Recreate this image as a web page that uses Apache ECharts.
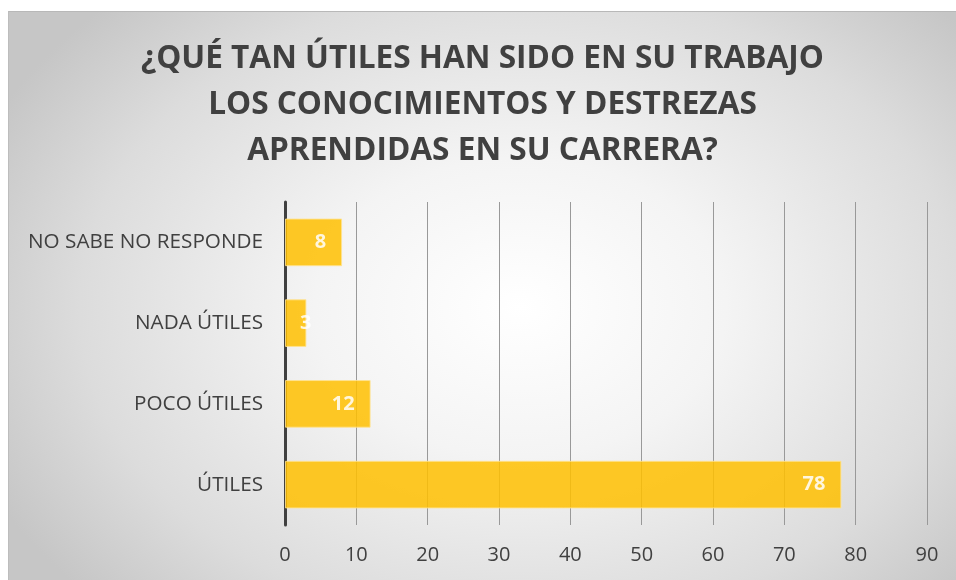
<!DOCTYPE html>
<html>
<head>
<meta charset="utf-8">
<script src="https://cdn.jsdelivr.net/npm/echarts@6/dist/echarts.min.js"></script>
<style>
  html, body { margin: 0; padding: 0; background: #ffffff; }
  #chart {
    position: absolute; left: 8px; top: 11px; width: 948px; height: 569px;
    border-top: 1px solid #b8b8b8; border-left: 1px solid #bdbdbd;
    box-sizing: border-box;
    background: radial-gradient(ellipse 62% 75% at 54% 52%, #ffffff 0%, #f4f4f4 35%, #dcdcdc 75%, #c6c6c6 100%);
  }
</style>
</head>
<body>
<div id="chart"></div>
<script>
const titleLines = ['¿QUÉ TAN ÚTILES HAN SIDO EN SU TRABAJO', 'LOS CONOCIMIENTOS Y DESTREZAS', 'APRENDIDAS EN SU CARRERA?'];
const categories = ['ÚTILES', 'POCO ÚTILES', 'NADA ÚTILES', 'NO SABE NO RESPONDE'];
const values = [78, 12, 3, 8];
const xTicks = { min: 0, max: 90, interval: 10 };

const chart = echarts.init(document.getElementById('chart'));
chart.setOption({
    backgroundColor: 'transparent',
    title: {
        text: titleLines.join('\n'),
        left: 'center',
        top: 24,
        padding: [0, 0, 0, 20],
        textStyle: {
            fontFamily: 'Open Sans',
            fontWeight: 'bold',
            fontSize: 31.6,
            lineHeight: 46,
            color: '#404040'
        }
    },
    grid: { left: 276, right: 29, top: 190, bottom: 55 },
    xAxis: {
        type: 'value',
        min: xTicks.min,
        max: xTicks.max,
        interval: xTicks.interval,
        axisLine: { show: false },
        axisTick: { show: false },
        axisLabel: { margin: 20, fontFamily: 'Open Sans', fontSize: 20, color: '#404040' },
        splitLine: { lineStyle: { color: '#999999', width: 1 } }
    },
    yAxis: {
        type: 'category',
        data: categories,
        axisLine: { lineStyle: { color: '#404040', width: 3 } },
        axisTick: { show: false },
        axisLabel: { margin: 22, fontFamily: 'Open Sans', fontSize: 20.7, color: '#404040' }
    },
    series: [{
        type: 'bar',
        data: values.map(v => v < 5 ? { value: v, label: { position: 'insideLeft', distance: 15 } } : v),
        barCategoryGap: '41%',
        itemStyle: { color: '#ffc000', opacity: 0.85, borderColor: '#ffe38f', borderWidth: 1 },
        label: {
            show: true,
            position: 'insideRight',
            distance: 16,
            fontFamily: 'Open Sans',
            fontWeight: 'bold',
            fontSize: 20,
            color: '#ffffff'
        }
    }]
});
</script>
</body>
</html>
